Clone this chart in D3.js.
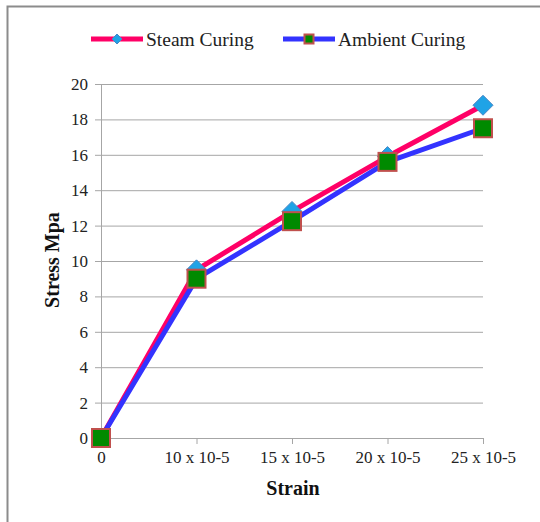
<!DOCTYPE html>
<html>
<head>
<meta charset="utf-8">
<script src="https://cdn.jsdelivr.net/npm/d3@7"></script>
<style>
  html, body { margin: 0; padding: 0; background: #fff; }
  svg { display: block; }
</style>
</head>
<body>
<div id="chart"></div>
<script>
// dados
const categories = ['0', '10 x 10-5', '15 x 10-5', '20 x 10-5', '25 x 10-5'];
const steamValues = [0, 9.5, 12.8, 15.9, 18.8];
const ambientValues = [0, 9.0, 12.25, 15.6, 17.5];
const yTicks = [0, 2, 4, 6, 8, 10, 12, 14, 16, 18, 20];
const seriesNames = ['Steam Curing', 'Ambient Curing'];

(function () {
  'use strict';
  const d3 = window.d3;
  const W = 540, H = 522;
  const font = '"Liberation Serif", "Times New Roman", serif';
  const axColor = '#a6a6a6';

  const svg = d3.select('#chart').append('svg')
    .attr('width', W).attr('height', H);

  // moldura do gráfico
  svg.append('rect')
    .attr('x', 7.5).attr('y', 6.5)
    .attr('width', W + 20).attr('height', H + 20)
    .attr('fill', '#fff').attr('stroke', '#8c8c8c').attr('stroke-width', 2);

  const x = d3.scalePoint().domain(categories).range([101, 483]);
  const y = d3.scaleLinear().domain([0, 20]).range([438, 84]);

  // grade horizontal
  svg.append('g')
    .attr('transform', 'translate(101,0)')
    .call(d3.axisLeft(y).tickValues(yTicks).tickSize(-(483 - 101)).tickFormat(''))
    .call(sel => {
      sel.select('.domain').remove();
      sel.selectAll('line').attr('stroke', axColor).attr('stroke-width', 1);
    });

  // eixo Y
  svg.append('g')
    .attr('transform', 'translate(101,0)')
    .call(d3.axisLeft(y).tickValues(yTicks).tickSize(6).tickPadding(7).tickSizeOuter(0))
    .call(sel => {
      sel.selectAll('path,line').attr('stroke', axColor);
      sel.selectAll('text').attr('fill', '#222').style('font-size', '17px').style('font-family', font);
    });

  // eixo X
  svg.append('g')
    .attr('transform', 'translate(0,438)')
    .call(d3.axisBottom(x).tickSize(6).tickPadding(7).tickSizeOuter(0))
    .call(sel => {
      sel.selectAll('path,line').attr('stroke', axColor);
      sel.selectAll('text').attr('fill', '#222').style('font-size', '17px').style('font-family', font);
    });

  // títulos dos eixos
  svg.append('text')
    .attr('x', 293).attr('y', 495)
    .attr('text-anchor', 'middle')
    .style('font-family', font).style('font-size', '20px').style('font-weight', 'bold')
    .attr('fill', '#111')
    .text('Strain');
  svg.append('text')
    .attr('transform', 'translate(59,260) rotate(-90)')
    .attr('text-anchor', 'middle')
    .style('font-family', font).style('font-size', '20px').style('font-weight', 'bold')
    .attr('fill', '#111')
    .text('Stress Mpa');

  const line = d3.line().x((d, i) => x(categories[i])).y(d => y(d));

  function drawDiamond(g, cx, cy, r) {
    g.append('path')
      .attr('d', `M${cx},${cy - r}L${cx + r},${cy}L${cx},${cy + r}L${cx - r},${cy}Z`)
      .attr('fill', '#1fa3e6').attr('stroke', '#4a86c5').attr('stroke-width', 1);
  }
  function drawSquare(g, cx, cy, s) {
    g.append('rect')
      .attr('x', cx - s / 2).attr('y', cy - s / 2)
      .attr('width', s).attr('height', s)
      .attr('fill', '#008a00').attr('stroke', '#c0504d').attr('stroke-width', 2);
  }

  // série Steam
  const gs = svg.append('g');
  gs.append('path').datum(steamValues)
    .attr('d', line).attr('fill', 'none')
    .attr('stroke', '#ff0066').attr('stroke-width', 5).attr('stroke-linejoin', 'round');
  steamValues.forEach((v, i) => drawDiamond(gs, x(categories[i]), y(v), 10));

  // série Ambient
  const ga = svg.append('g');
  ga.append('path').datum(ambientValues)
    .attr('d', line).attr('fill', 'none')
    .attr('stroke', '#3333ff').attr('stroke-width', 5).attr('stroke-linejoin', 'round');
  ambientValues.forEach((v, i) => drawSquare(ga, x(categories[i]), y(v), 18));

  // legenda
  const leg = svg.append('g');
  const items = [
    { name: seriesNames[0], x0: 91, color: '#ff0066', mark: 'd' },
    { name: seriesNames[1], x0: 283, color: '#3333ff', mark: 's' }
  ];
  items.forEach(it => {
    leg.append('line')
      .attr('x1', it.x0).attr('x2', it.x0 + 52)
      .attr('y1', 39).attr('y2', 39)
      .attr('stroke', it.color).attr('stroke-width', 5);
    if (it.mark === 'd') drawDiamond(leg, it.x0 + 26, 39, 5);
    else drawSquare(leg, it.x0 + 26, 39, 9);
    leg.append('text')
      .attr('x', it.x0 + 55).attr('y', 46)
      .style('font-family', font).style('font-size', '19.5px')
      .attr('fill', '#222')
      .text(it.name);
  });
})();
</script>
</body>
</html>
